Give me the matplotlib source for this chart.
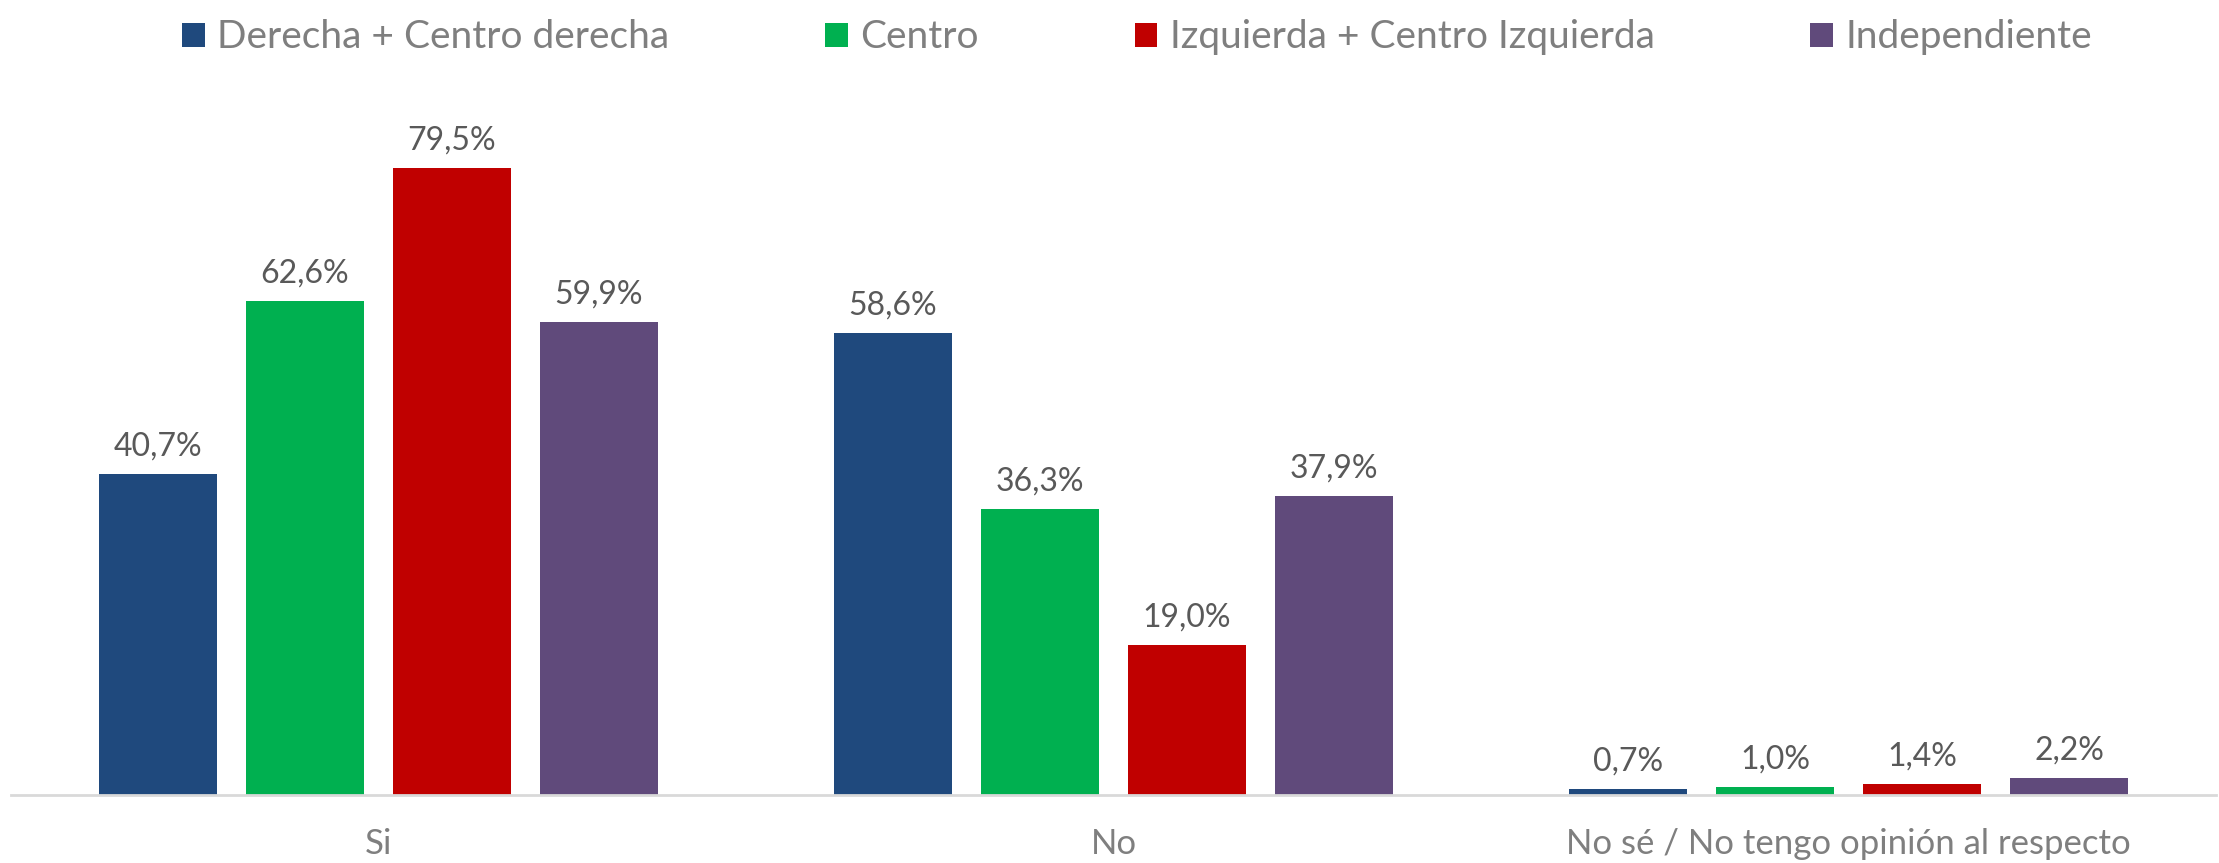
import matplotlib
matplotlib.use("Agg")
import matplotlib.pyplot as plt
import numpy as np

plt.rcParams['font.family'] = ['Lato', 'DejaVu Sans']

categories = ["Si", "No", "No sé / No tengo opinión al respecto"]
series_names = ["Derecha + Centro derecha", "Centro", "Izquierda + Centro Izquierda", "Independiente"]
derecha = [40.7, 58.6, 0.7]
centro = [62.6, 36.3, 1.0]
izquierda = [79.5, 19.0, 1.4]
independiente = [59.9, 37.9, 2.2]
series_values = [derecha, centro, izquierda, independiente]
colors = ["#1F497D", "#00B050", "#C00000", "#604A7B"]

fig = plt.figure(figsize=(22.19, 8.63), dpi=100)
ax = fig.add_axes([11/2219, 68/863, 2205/2219, 710/863])

x = np.arange(len(categories))
width = 0.16
offsets = [-0.3, -0.1, 0.1, 0.3]
handles = []
for name, vals, col, off in zip(series_names, series_values, colors, offsets):
    bars = ax.bar(x + off, vals, width, color=col, label=name)
    handles.append(bars)
    for xi, v in zip(x + off, vals):
        ax.annotate(f"{v:.1f}%".replace('.', ','), (xi, v), xytext=(0, 9),
                    textcoords='offset points', ha='center', va='bottom',
                    fontsize=23, color='#595959')

ax.set_xlim(-0.5, 2.5)
ax.set_ylim(0, 90)
ax.set_xticks(x)
ax.set_xticklabels(categories, fontsize=25, color='#7F7F7F')
ax.tick_params(axis='x', length=0, pad=24)
ax.set_yticks([])
for s in ['top', 'left', 'right']:
    ax.spines[s].set_visible(False)
ax.spines['bottom'].set_color('#D9D9D9')
ax.spines['bottom'].set_linewidth(2)

leg = fig.legend(handles=handles, labels=series_names, loc='upper center',
                 bbox_to_anchor=(0.5125, 1.018), ncol=4, frameon=False,
                 fontsize=28, handlelength=0.58, handleheight=0.58,
                 handletextpad=0.33, columnspacing=4.0)
for t in leg.get_texts():
    t.set_color('#7F7F7F')

fig.savefig("out.png", dpi=100)
